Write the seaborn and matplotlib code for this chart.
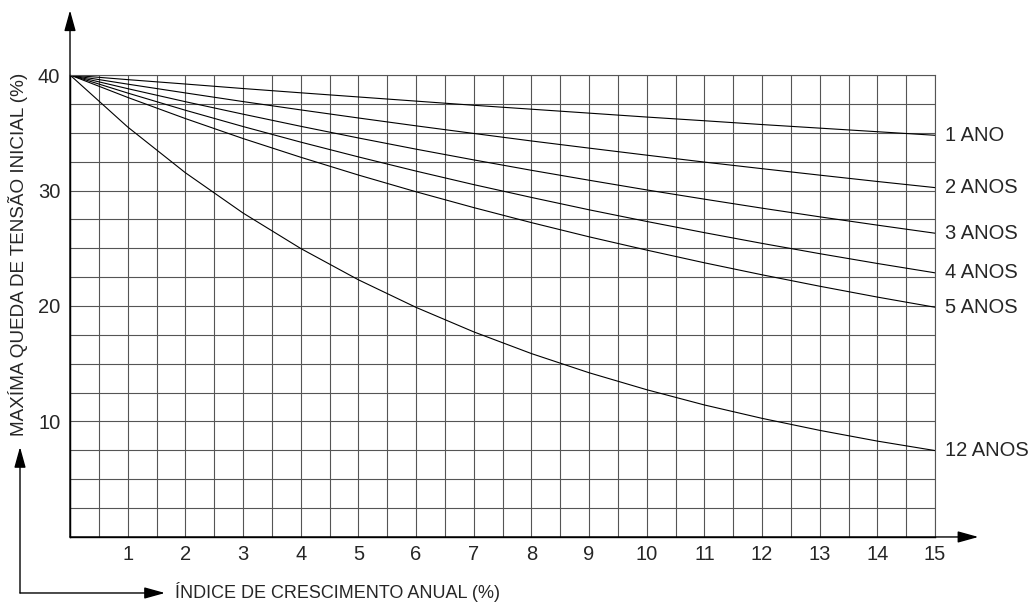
import pandas as pd
import matplotlib
matplotlib.use("Agg")
import matplotlib.pyplot as plt
import seaborn as sns
from matplotlib import font_manager
from matplotlib.patches import FancyArrowPatch
from matplotlib.ticker import MultipleLocator, FixedLocator

# growth index (% per year), read at integer points
indice = [0, 1, 2, 3, 4, 5, 6, 7, 8, 9, 10, 11, 12, 13, 14, 15]

# max initial voltage drop (%) for each planning horizon
ano_1 = [40, 39.60, 39.22, 38.83, 38.46, 38.10, 37.74, 37.38, 37.04, 36.70, 36.36, 36.04, 35.71, 35.40, 35.09, 34.78]
anos_2 = [40, 39.21, 38.45, 37.70, 36.98, 36.28, 35.60, 34.94, 34.29, 33.67, 33.06, 32.46, 31.89, 31.33, 30.78, 30.25]
anos_3 = [40, 38.82, 37.69, 36.61, 35.56, 34.55, 33.58, 32.65, 31.75, 30.89, 30.05, 29.25, 28.47, 27.72, 27.00, 26.30]
anos_4 = [40, 38.44, 36.95, 35.54, 34.19, 32.91, 31.68, 30.51, 29.40, 28.33, 27.32, 26.35, 25.42, 24.53, 23.68, 22.87]
anos_5 = [40, 38.06, 36.23, 34.50, 32.88, 31.34, 29.89, 28.52, 27.22, 25.99, 24.84, 23.74, 22.70, 21.71, 20.77, 19.89]
anos_12 = [40, 35.50, 31.54, 28.05, 24.98, 22.27, 19.88, 17.76, 15.88, 14.22, 12.75, 11.43, 10.27, 9.23, 8.30, 7.48]

curve_names = ["1 ANO", "2 ANOS", "3 ANOS", "4 ANOS", "5 ANOS", "12 ANOS"]
curve_values = [ano_1, anos_2, anos_3, anos_4, anos_5, anos_12]

x_ticks = [1, 2, 3, 4, 5, 6, 7, 8, 9, 10, 11, 12, 13, 14, 15]
y_ticks = [10, 20, 30, 40]

sns.set_style("white")
plt.rcParams["font.family"] = ["Liberation Sans", "DejaVu Sans"]

# the x title in the original is set in a narrow face
try:
    font_manager.findfont("Liberation Sans Narrow", fallback_to_default=False)
    xlabel_font = dict(family=["Liberation Sans Narrow", "Liberation Sans"], fontsize=14)
except ValueError:
    xlabel_font = dict(family=["Liberation Sans", "DejaVu Sans"], fontsize=13)

# long table for seaborn
rows = []
for name, vals in zip(curve_names, curve_values):
    for xv, yv in zip(indice, vals):
        rows.append({"indice": xv, "queda": yv, "curva": name})
df = pd.DataFrame(rows)

fig = plt.figure(figsize=(10.31, 6.03), dpi=100)
ax = fig.add_axes([0.0679, 0.1095, 0.8391, 0.7661])

sns.lineplot(data=df, x="indice", y="queda", units="curva", estimator=None,
             color="black", linewidth=0.8, ax=ax)

ax.set_xlim(0, 15)
ax.set_ylim(0, 40)

# grid every 0.5 in x and 2.5 in y
ax.xaxis.set_major_locator(FixedLocator(x_ticks))
ax.yaxis.set_major_locator(FixedLocator(y_ticks))
ax.xaxis.set_minor_locator(MultipleLocator(0.5))
ax.yaxis.set_minor_locator(MultipleLocator(2.5))
ax.grid(which="both", color="#555555", linewidth=0.8)
ax.set_axisbelow(True)

ax.tick_params(axis="x", which="major", labelsize=14.5, length=4, width=0.9,
               color="black", direction="out", pad=2)
ax.tick_params(axis="y", which="major", labelsize=14.5, length=5, width=0.9,
               color="black", direction="out", pad=2)
ax.tick_params(axis="both", which="minor", length=0)

for side in ["top", "right"]:
    ax.spines[side].set_color("#555555")
    ax.spines[side].set_linewidth(0.8)
for side in ["bottom", "left"]:
    ax.spines[side].set_color("black")
    ax.spines[side].set_linewidth(1.0)

ax.set_xlabel("")
ax.set_ylabel("")

# curve labels at the right
for name, vals in zip(curve_names, curve_values):
    ax.text(15.17, vals[-1], name, ha="left", va="center", fontsize=14.5)

# axis arrows
arrow = dict(arrowstyle="-|>,head_length=0.9,head_width=0.25", color="black",
             lw=1.0, mutation_scale=14, shrinkA=0, shrinkB=0)
ax.annotate("", xy=(15.75, 0), xytext=(0, 0), arrowprops=arrow, annotation_clip=False)
ax.annotate("", xy=(0, 45.6), xytext=(0, 0), arrowprops=arrow, annotation_clip=False)

# axis titles with the L-shaped arrow
fig.text(0.017, 0.578, "MAXÍMA QUEDA DE TENSÃO INICIAL (%)", rotation=90,
         ha="center", va="center", fontsize=13.6)
fig.text(0.170, 0.018, "ÍNDICE DE CRESCIMENTO ANUAL (%)", ha="left",
         va="center", **xlabel_font)
fig.add_artist(FancyArrowPatch((0.0194, 0.0166), (0.0194, 0.2587),
                               transform=fig.transFigure, **arrow))
fig.add_artist(FancyArrowPatch((0.0194, 0.0166), (0.160, 0.0166),
                               transform=fig.transFigure, **arrow))

fig.savefig("out.png", dpi=100)
